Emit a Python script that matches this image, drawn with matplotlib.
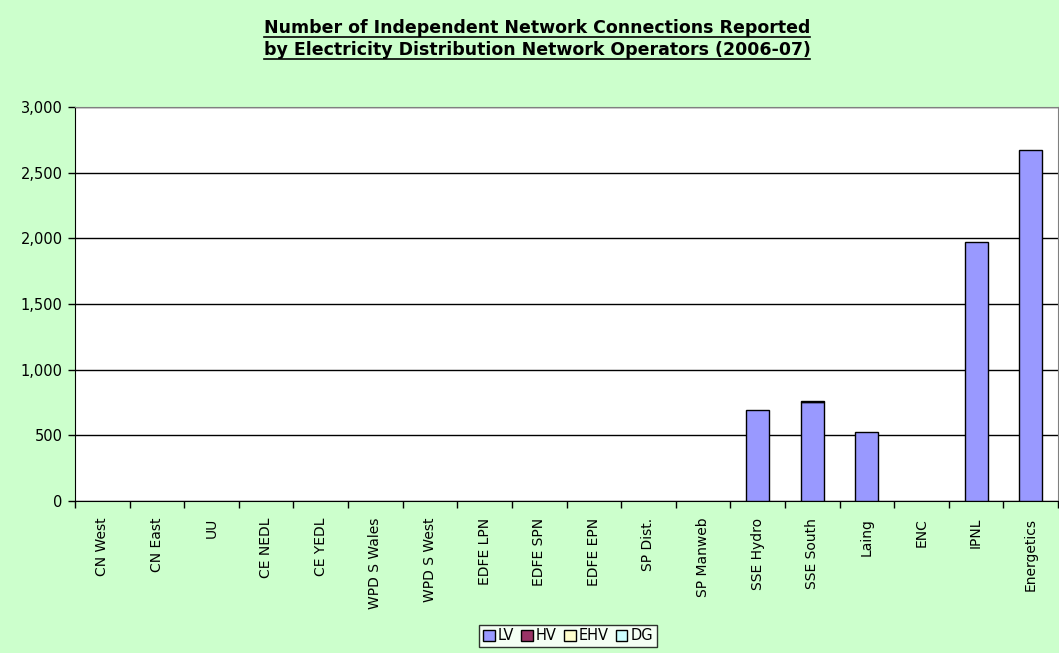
import numpy as np
import matplotlib.pyplot as plt
from matplotlib.lines import Line2D

operators = ['CN West', 'CN East', 'UU', 'CE NEDL', 'CE YEDL', 'WPD S Wales',
             'WPD S West', 'EDFE LPN', 'EDFE SPN', 'EDFE EPN', 'SP Dist.',
             'SP Manweb', 'SSE Hydro', 'SSE South', 'Laing', 'ENC', 'IPNL',
             'Energetics']
lv = [0, 0, 0, 0, 0, 0, 0, 0, 0, 0, 0, 0, 693, 756, 527, 0, 1975, 2673]
hv = [0, 0, 0, 0, 0, 0, 0, 0, 0, 0, 0, 0, 0, 4, 0, 0, 0, 0]
ehv = [0] * 18
dg = [0] * 18
yticks = [0, 500, 1000, 1500, 2000, 2500, 3000]

plt.rcParams['font.family'] = ['DejaVu Sans']
bg = '#CCFFCC'

fig = plt.figure(figsize=(10.59, 6.53), dpi=100, facecolor=bg)
ax = fig.add_axes([75/1059, (653-501)/653, (1058-75)/1059, (501-107)/653])
ax.set_facecolor('white')

x = np.arange(len(operators))
w = 0.42
bottom = np.zeros(len(operators))
series = [('LV', lv, '#9999FF'), ('HV', hv, '#993366'),
          ('EHV', ehv, '#FFFFCC'), ('DG', dg, '#CCFFFF')]
handles = []
for name, vals, col in series:
    vals = np.array(vals, dtype=float)
    mask = vals > 0
    ax.bar(x[mask], vals[mask], w, bottom=bottom[mask], color=col,
           edgecolor='black', linewidth=1, zorder=3)
    bottom += vals
    handles.append(plt.Rectangle((0, 0), 1, 1, facecolor=col,
                                 edgecolor='black', linewidth=1, label=name))

ax.set_xlim(-0.5, len(operators) - 0.5)
ax.set_ylim(0, 3000)
ax.set_yticks(yticks)
ax.set_yticklabels([f'{v:,}' for v in yticks], fontsize=10.5)
ax.yaxis.grid(True, color='black', linewidth=1, zorder=0)
ax.set_axisbelow(True)

ax.set_xticks(x)
ax.set_xticklabels(operators, rotation=90, fontsize=10)
ax.tick_params(axis='x', length=0, pad=12)
ax.set_xticks(np.arange(len(operators) + 1) - 0.5, minor=True)
ax.tick_params(axis='x', which='minor', length=5, width=1, direction='out')
ax.tick_params(axis='y', length=5, width=1, direction='out', pad=4)

ax.spines['left'].set_color('black')
ax.spines['bottom'].set_color('black')
ax.spines['top'].set_color('#808080')
ax.spines['right'].set_color('#808080')

title_lines = ['Number of Independent Network Connections Reported',
               'by Electricity Distribution Network Operators (2006-07)']
title_y = [28, 50]
texts = []
for s, yy in zip(title_lines, title_y):
    texts.append(fig.text(537/1059, 1 - yy/653, s, ha='center', va='center',
                          fontsize=12.5, fontweight='bold'))

leg = fig.legend(handles=handles, loc='center', ncol=4,
                 bbox_to_anchor=(568/1059, 1 - 636/653), fontsize=10.5,
                 frameon=True, fancybox=False, edgecolor='black',
                 handlelength=0.8, handleheight=0.8, handletextpad=0.2,
                 columnspacing=0.5, borderpad=0.25, borderaxespad=0)
leg.get_frame().set_linewidth(1)

# underline the title lines
fig.canvas.draw()
renderer = fig.canvas.get_renderer()
W, H = fig.bbox.width, fig.bbox.height
for t, yy in zip(texts, title_y):
    bb = t.get_window_extent(renderer)
    uy = 1 - (yy + 9)/653
    fig.add_artist(Line2D([bb.x0 / W, bb.x1 / W], [uy, uy],
                          color='black', linewidth=1.2))

fig.savefig('out.png', dpi=100, facecolor=bg)
